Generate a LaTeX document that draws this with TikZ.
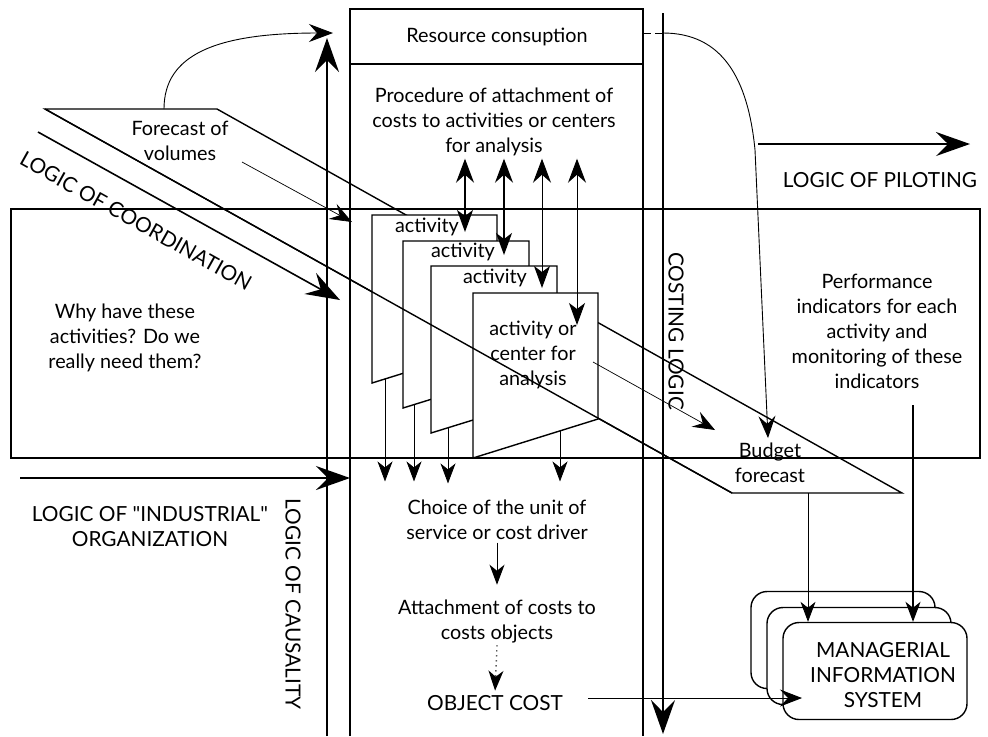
\documentclass[tikz,border=0pt]{standalone}
\usepackage{fontspec}
\setmainfont{Lato}
\usetikzlibrary{arrows.meta}
\tikzset{
  txt/.style={align=center, font=\fontsize{9.9}{12.5}\selectfont, inner sep=1pt},
  caps/.style={align=center, font=\fontsize{10.4}{12.5}\selectfont, inner sep=1pt},
  bigarrow/.style={line width=0.8pt, -{Stealth[length=17pt,width=12pt,inset=6pt]}},
  midarrow/.style={line width=0.45pt, -{Stealth[length=11pt,width=8.5pt,inset=4pt]}},
  smallarrow/.style={line width=0.5pt, -{Stealth[length=10pt,width=7.5pt,inset=3pt]}},
  updown/.style={line width=0.6pt, {Stealth[length=12pt,width=9pt,inset=4pt]}-{Stealth[length=11pt,width=8pt,inset=3pt]}},
  actbox/.style={draw, fill=white},
  misbox/.style={draw, fill=white, rounded corners=8pt, minimum width=92pt, minimum height=48.5pt},
}
\begin{document}
\begin{tikzpicture}[x=0.5pt, y=-0.5pt, line width=0.7pt]
    \useasboundingbox (0,0) rectangle (988,736);
    \draw (11,209) rectangle (980,458);
    \draw (350,736) -- (350,9) -- (643,9) -- (643,736);
    \draw (350,64) -- (643,64);
    \node[txt] (res) at (497,37) {Resource consuption};
    \node[txt] (proc) at (494,122) {Procedure of attachment of\\costs to activities or centers\\for analysis};

    \coordinate (fv1) at (45,109);
    \coordinate (fv2) at (217,109);
    \coordinate (bf1) at (732,493);
    \coordinate (bf2) at (902,493);
    \draw (fv1) -- (fv2) -- (bf2) -- (bf1) -- cycle;
    \node[txt] (fv) at (180,141) {Forecast of\\volumes};
    \node[txt] (bf) at (770,463) {Budget\\forecast};

    \draw[actbox] (372,215) -- (497,215) -- (497,344) -- (372,383) -- cycle;
    \draw[actbox] (403,241) -- (529,241) -- (529,369) -- (403,408) -- cycle;
    \draw[actbox] (431,266) -- (557,266) -- (557,394) -- (431,433) -- cycle;
    \draw[actbox] (473,293) -- (598,293) -- (598,419) -- (473,458) -- cycle;
    \node[txt] (act1) at (427,227) {activity};
    \node[txt] (act2) at (463,252) {activity};
    \node[txt] (act3) at (495,278) {activity};
    \node[txt] (act4) at (533,355) {activity or\\center for\\analysis};
    \draw (fv1) -- (bf1);

    \coordinate (u1) at (465,232);
    \coordinate (u2) at (504,255);
    \coordinate (u3) at (542,288);
    \coordinate (u4) at (577,325);
    \draw[updown] (proc.south -| u1) -- (u1);
    \draw[updown] (proc.south -| u2) -- (u2);
    \draw[updown, line width=0.45pt] (proc.south -| u3) -- (u3);
    \draw[updown, line width=0.45pt] (proc.south -| u4) -- (u4);

    \node[txt] (choice) at (497,520) {Choice of the unit of\\service or cost driver};
    \node[txt] (attach) at (497,621) {Attachment of costs to\\costs objects};
    \node[caps] (objcost) at (495,703) {OBJECT COST};
    \coordinate (b1) at (385,379);
    \coordinate (b2) at (414,405);
    \coordinate (b3) at (448,428);
    \coordinate (b4) at (560,431);
    \draw[smallarrow, line width=0.4pt, shorten >=8pt] (b1) -- (b1 |- choice.north);
    \draw[smallarrow, line width=0.4pt, shorten >=8pt] (b2) -- (b2 |- choice.north);
    \draw[smallarrow, line width=0.4pt, shorten >=7pt] (b3) -- (b3 |- choice.north);
    \draw[smallarrow, line width=0.4pt, shorten >=8pt] (b4) -- (b4 |- choice.north);
    \draw[smallarrow, shorten >=6pt] (choice.south) -- (attach.north);
    \draw[smallarrow, dotted, line width=0.7pt, shorten >=1pt] (attach.south) -- (objcost.north);

    \coordinate (fvtop) at (164,109);
    \coordinate (resin) at (333,33);
    \draw[midarrow, -{Stealth[length=12pt,width=9pt,inset=4pt]}] (fvtop) .. controls (164,55) and (215,33) .. (resin);
    \coordinate (fvout) at (242,162);
    \coordinate (colin) at (352,222);
    \draw[midarrow, line width=0.35pt] (fvout) -- (colin);
    \coordinate (act4out) at (593,362);
    \coordinate (bfin) at (715,430);
    \draw[midarrow, line width=0.35pt] (act4out) -- (bfin);
    \coordinate (resout) at (643,33);
    \coordinate (bend) at (663,33);
    \coordinate (budin) at (768,438);
    \draw[line width=0.4pt, dash pattern=on 4pt off 2pt] (resout) -- (bend);
    \draw[midarrow] (bend) .. controls (722,33) and (748,78) .. (755,150) -- (budin);

    \coordinate (co1) at (38,132);
    \coordinate (co2) at (340,300);
    \draw[bigarrow] (co1) -- (co2);
    \node[caps, rotate=-29.2] (coord) at (136,221) {LOGIC OF COORDINATION};
    \coordinate (io1) at (20,478);
    \coordinate (io2) at (350,478);
    \draw[bigarrow] (io1) -- (io2);
    \node[caps] (indus) at (150,527) {LOGIC OF \textquotedbl INDUSTRIAL\textquotedbl\\ORGANIZATION};
    \coordinate (ca1) at (327,736);
    \coordinate (ca2) at (327,38);
    \draw[bigarrow] (ca1) -- (ca2);
    \node[caps, rotate=-90] (causal) at (293,604) {LOGIC OF CAUSALITY};
    \coordinate (cl1) at (663,13);
    \coordinate (cl2) at (663,734);
    \draw[bigarrow] (cl1) -- (cl2);
    \node[caps, rotate=-90] (costing) at (676,331) {COSTING LOGIC};
    \coordinate (pi1) at (758,144);
    \coordinate (pi2) at (970,144);
    \draw[bigarrow] (pi1) -- (pi2);
    \node[caps] (pilot) at (880,180) {LOGIC OF PILOTING};

    \node[txt] (why) at (125,338) {Why have these\\activities? Do we\\really need them?};
    \node[txt] (perf) at (877,331) {Performance\\indicators for each\\activity and\\monitoring of these\\indicators};

    \node[misbox] (mis3) at (843,640) {};
    \node[misbox] (mis2) at (859,656) {};
    \node[misbox] (mis1) at (875,671) {};
    \node[caps] (mis) at (883,675) {MANAGERIAL\\INFORMATION\\SYSTEM};
    \coordinate (bfout) at (808,493);
    \coordinate (perfout) at (913,405);
    \draw[smallarrow, line width=0.4pt] (bfout) -- (bfout |- mis1.north);
    \draw[smallarrow, line width=0.7pt] (perfout) -- (perfout |- mis1.north);
    \coordinate (ocout) at (588,698);
    \coordinate (misin) at (802,698);
    \draw[midarrow] (ocout) -- (misin);
\end{tikzpicture}
\end{document}
